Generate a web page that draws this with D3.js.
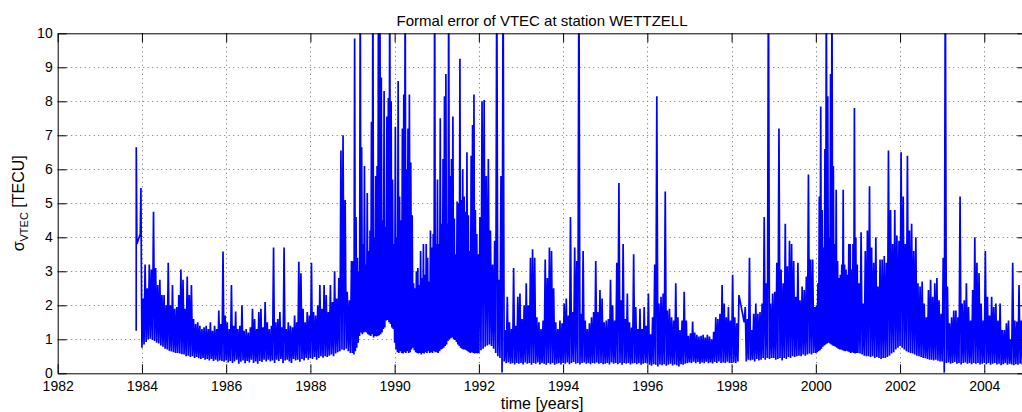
<!DOCTYPE html>
<html>
<head>
<meta charset="utf-8">
<script src="https://cdn.jsdelivr.net/npm/d3@7"></script>
<style>
  html, body { margin: 0; padding: 0; background: #fff; }
  svg { display: block; font-family: "Liberation Sans", Arial, Helvetica, sans-serif; }
</style>
</head>
<body>
<svg id="chart" width="1022" height="412"></svg>
<script>
// ---- tick labels ----
const xTicks = [1982, 1984, 1986, 1988, 1990, 1992, 1994, 1996, 1998, 2000, 2002, 2004];
const yTicks = [0, 1, 2, 3, 4, 5, 6, 7, 8, 9, 10];

// ---- first sessions before the regular series (time in years, sigma in TECU) ----
const startTimes  = [1983.864, 1983.866, 1983.88, 1983.96, 1983.976, 1983.986];
const startValues = [1.25, 6.65, 3.8, 4.1, 5.45, 3.2];

// ---- per-year series: alternating minima (lo) and maxima (hi) of sigma VTEC [TECU]
// each year is split evenly into lo.length slots; null marks missing data ----
const lo1984 = [0.75,0.85,0.92,1.0,1.02,0.98,0.95,0.9,0.88,0.82,0.78,0.72,0.7,0.66,0.64,0.62,0.6,0.6,0.58,0.56];
const hi1984 = [2.2,3.2,2.5,3.2,3.05,4.75,3.1,2.6,2.75,2.3,2.3,2.0,3.25,2.0,2.6,1.9,1.95,2.3,3.05,2.75];

const lo1985 = [0.55,0.5,0.52,0.48,0.5,0.45,0.48,0.44,0.42,0.45,0.4,0.42,0.38,0.42,0.36,0.4,0.35,0.38,0.36,0.34];
const hi1985 = [1.9,2.85,2.3,2.6,1.6,1.45,1.5,1.4,1.3,1.35,1.4,1.3,1.5,1.25,1.4,1.3,1.85,1.45,3.58,1.7];

const lo1986 = [0.38,0.32,0.36,0.3,0.35,0.4,0.28,0.34,0.38,0.3,0.36,0.32,0.4,0.3,0.35,0.28,0.36,0.33,0.4,0.35];
const hi1986 = [1.5,1.3,2.6,1.4,1.82,1.3,1.4,2.0,1.25,1.3,1.2,1.35,1.9,1.6,1.3,1.8,1.9,1.35,2.1,1.5];

const lo1987 = [0.4,0.35,0.38,0.3,0.4,0.36,0.42,0.3,0.38,0.4,0.35,0.3,0.42,0.38,0.4,0.34,0.42,0.38,0.45,0.4];
const hi1987 = [1.3,1.4,3.7,1.5,1.6,1.8,1.35,3.7,1.3,1.5,1.4,1.35,1.7,1.5,3.28,2.94,1.9,1.5,1.8,1.7];

const lo1988 = [0.45,0.42,0.48,0.4,0.45,0.5,0.46,0.5,0.48,0.52,0.55,0.5,0.58,0.62,0.65,0.7,0.68,0.72,0.65,0.6];
const hi1988 = [3.25,1.8,1.7,2.0,2.6,1.9,2.6,2.3,1.8,2.6,2.1,3.0,2.2,2.8,6.55,7.0,5.1,2.4,2.15,3.3];

const lo1989 = [0.6,0.55,0.65,0.75,0.9,1.1,1.2,1.15,1.2,1.22,1.2,1.15,1.12,1.1,1.15,1.05,1.1,1.08,1.1,1.12,1.15,1.2,1.3,1.35,1.55,1.57,1.5,1.45,1.35,1.3];
const hi1989 = [3.3,9.85,4.6,3.4,3.0,12,6.65,3.8,6.1,3.2,5.3,3.6,4.2,7.4,12,4.0,5.8,6.1,12,12,8.7,4.5,8.3,4.3,7.55,8.1,12,8.0,5.7,3.8];

const lo1990 = [0.9,0.7,0.62,0.6,0.65,0.6,0.58,0.62,0.6,0.65,0.6,0.62,0.7,0.75,0.68,0.62,0.6,0.58,0.6,0.55,0.6,0.58,0.62,0.6,0.65,0.6,0.62,0.6,0.65,0.62];
const hi1990 = [7.25,4.0,8.6,5.2,4.5,7.2,8.2,12,6.0,7.2,8.2,6.2,4.65,2.65,2.5,3.0,3.1,2.6,3.6,2.8,3.8,2.9,3.8,3.4,2.7,4.2,3.7,4.1,12,3.8];

const lo1991 = [0.62,0.6,0.65,0.7,0.72,0.75,0.8,0.85,0.95,1.0,1.03,1.05,1.0,0.98,0.92,0.85,0.8,0.75,0.72,0.7,0.7,0.68,0.65,0.62,0.6,0.62,0.6,0.58,0.6,0.58];
const hi1991 = [5.7,3.8,7.5,4.4,6.3,8.15,8.8,4.4,12,5.8,6.3,7.55,4.55,3.5,5.05,5.0,9.25,5.1,6.0,5.2,4.75,6.5,4.65,3.6,6.4,7.3,8.2,4.8,4.1,3.5];

const lo1992 = [0.6,0.68,0.72,0.78,0.82,0.85,0.8,0.72,0.6,0.5,0.45,0.02,0.35,0.3,0.32,0.28,0.3,0.26,0.3,0.28];
const hi1992 = [4.6,8.0,8.04,5.8,6.3,4.2,3.2,3.9,12,2.75,5.8,12,1.27,2.25,1.5,1.3,3.1,1.4,2.25,2.35];

const lo1993 = [0.3,0.26,0.32,0.28,0.3,0.25,0.3,0.28,0.32,0.26,0.3,0.28,0.25,0.3,0.27,0.3,0.25,0.28,0.3,0.26];
const hi1993 = [1.6,2.0,2.65,2.0,3.4,3.65,3.4,1.65,1.5,1.3,1.55,3.35,2.8,3.7,3.6,2.5,1.5,1.3,1.55,1.47];

const lo1994 = [0.3,0.28,0.32,0.27,0.3,0.33,0.28,0.3,0.26,0.3,0.32,0.28,0.3,0.27,0.3,0.29,0.32,0.28,0.3,0.27];
const hi1994 = [2.05,2.2,1.7,4.6,1.8,3.7,3.3,12,1.75,3.6,1.55,1.3,1.47,1.65,1.8,3.3,1.8,2.45,2.2,1.5];

const lo1995 = [0.28,0.3,0.26,0.32,0.28,0.3,0.27,0.3,0.25,0.3,0.28,0.3,0.26,0.29,0.3,0.27,0.3,0.25,0.28,0.3];
const hi1995 = [1.55,1.6,2.75,2.0,1.55,3.25,5.6,2.15,3.8,1.6,2.35,1.5,1.35,3.5,1.95,1.3,1.9,1.3,1.95,1.4];

const lo1996 = [0.28,0.25,0.22,0.27,0.25,0.2,0.26,0.24,0.27,0.22,0.25,0.28,0.23,0.26,0.24,0.2,0.27,0.25,0.28,0.3];
const hi1996 = [2.35,1.15,1.65,3.2,8.15,2.05,2.25,2.35,5.35,1.85,1.9,1.65,1.55,2.65,1.65,1.27,1.55,2.4,1.55,1.1];

const lo1997 = [0.32,0.3,0.34,0.3,0.33,0.28,0.32,0.3,0.34,0.3,0.32,0.29,0.33,0.3,0.35,0.3,0.32,0.3,0.34,0.3];
const hi1997 = [1.18,1.52,1.2,1.13,1.08,1.1,1.13,1.05,1.13,1.08,1.0,1.22,1.65,1.6,1.75,2.6,2.05,1.65,1.95,1.55];

const lo1998 = [0.3,0.32,0.3,0.35,null,null,1.5,0.35,0.4,0.38,0.4,0.35,0.42,0.38,0.4,0.45,0.4,0.45,0.42,0.45];
const hi1998 = [2.9,1.65,1.47,2.3,null,null,1.95,1.6,3.4,1.27,1.75,2.05,1.75,1.8,2.05,4.6,2.65,12,2.05,2.35];

const lo1999 = [0.45,0.4,0.42,0.45,0.38,0.45,0.42,0.48,0.45,0.5,0.48,0.5,0.52,0.5,0.55,0.52,0.55,0.58,0.55,0.6];
const hi1999 = [2.4,3.25,7.2,3.05,2.65,4.4,3.15,3.9,3.8,3.3,2.25,3.25,2.15,2.55,2.45,2.85,5.85,3.35,3.35,1.95];

const lo2000 = [0.6,0.62,0.65,0.68,0.72,0.78,0.82,0.85,0.88,0.9,0.88,0.85,0.82,0.8,0.78,0.75,0.72,0.7,0.7,0.68,0.66,0.65,0.66,0.64,0.62,0.6,0.62,0.6,0.58,0.6];
const hi2000 = [2.0,2.65,5.2,7.85,4.8,3.7,6.6,12,8.15,4.0,8.8,12,6.1,3.8,5.4,3.3,2.8,2.9,3.2,5.4,3.2,3.05,2.9,3.8,3.8,3.05,3.8,7.8,4.0,3.2];

const lo2001 = [0.6,0.58,0.55,0.52,0.5,0.5,0.48,0.5,0.45,0.48,0.45,0.42,0.45,0.45,0.48,0.52,0.58,0.62,0.7,0.75];
const hi2001 = [2.65,4.15,2.05,3.6,4.2,5.5,3.7,3.25,4.0,2.55,3.35,3.35,3.45,3.25,6.55,4.8,3.8,4.8,4.05,3.9];

const lo2002 = [0.8,0.75,0.7,0.65,0.62,0.6,0.58,0.55,0.52,0.5,0.48,0.45,0.44,0.42,0.4,0.4,0.38,0.4,0.37,0.35];
const hi2002 = [6.5,5.2,3.8,6.4,4.2,4.4,3.6,4.0,2.65,2.55,2.7,2.05,1.65,2.45,2.75,2.25,2.65,2.8,2.15,1.75];

const lo2003 = [0.35,0.02,0.3,0.32,0.28,0.3,0.33,0.28,0.3,0.26,0.3,0.32,0.28,0.3,0.27,0.3,0.28,0.3,0.26,0.28];
const hi2003 = [3.4,12,2.55,1.47,1.65,1.85,1.85,1.65,5.2,2.05,2.15,2.65,1.95,1.55,2.45,4.0,3.25,2.95,2.05,1.55];

const lo2004 = [0.3,0.27,0.3,0.25,0.28,0.3,0.26,0.28,0.24,0.27,0.3,0.25,0.28,0.26,0.24,0.27,0.25,0.28,0.26,0.25];
const hi2004 = [3.6,2.25,1.7,2.25,1.95,2.05,1.55,2.05,1.27,1.27,1.47,1.55,1.0,3.25,1.55,1.52,2.6,1.55,1.5,1.4];

const yearRuns = [
  [1984, lo1984, hi1984], [1985, lo1985, hi1985], [1986, lo1986, hi1986],
  [1987, lo1987, hi1987], [1988, lo1988, hi1988], [1989, lo1989, hi1989],
  [1990, lo1990, hi1990], [1991, lo1991, hi1991], [1992, lo1992, hi1992],
  [1993, lo1993, hi1993], [1994, lo1994, hi1994], [1995, lo1995, hi1995],
  [1996, lo1996, hi1996], [1997, lo1997, hi1997], [1998, lo1998, hi1998],
  [1999, lo1999, hi1999], [2000, lo2000, hi2000], [2001, lo2001, hi2001],
  [2002, lo2002, hi2002], [2003, lo2003, hi2003], [2004, lo2004, hi2004]
];

// ---- assemble the time series ----
const series = startTimes.map((t, i) => [t, startValues[i]]);
yearRuns.forEach(([yr, lo, hi]) => {
  const n = lo.length;
  lo.forEach((v, j) => {
    if (v !== null) series.push([yr + j / n, v]);
    if (hi[j] !== null) series.push([yr + (j + 0.5) / n, hi[j]]);
  });
});

// ---- layout ----
const svg = d3.select("#chart");
const x = d3.scaleLinear().domain([1982, 2005]).range([57.7, 1026.4]);
const y = d3.scaleLinear().domain([0, 10]).range([373.3, 33.3]);
const FONT = '"Liberation Sans", Arial, Helvetica, sans-serif';

svg.append("defs").append("clipPath").attr("id", "plot-clip")
  .append("rect")
  .attr("x", x(1982)).attr("y", y(10))
  .attr("width", x(2005) - x(1982)).attr("height", y(0) - y(10));

// dotted grid
const grid = svg.append("g").attr("stroke", "#444").attr("stroke-width", 1)
  .attr("stroke-dasharray", "1,3.5").attr("opacity", 0.75);
grid.selectAll("line.gx").data(xTicks.slice(1)).join("line").attr("class", "gx")
  .attr("x1", d => Math.round(x(d)) + 0.5).attr("x2", d => Math.round(x(d)) + 0.5)
  .attr("y1", y(10)).attr("y2", y(0));
grid.selectAll("line.gy").data(yTicks.slice(1, -1)).join("line").attr("class", "gy")
  .attr("y1", d => Math.round(y(d)) + 0.5).attr("y2", d => Math.round(y(d)) + 0.5)
  .attr("x1", x(1982)).attr("x2", x(2005));

// data line
const line = d3.line().x(d => x(d[0])).y(d => y(d[1]));
svg.append("path")
  .datum(series)
  .attr("clip-path", "url(#plot-clip)")
  .attr("fill", "none")
  .attr("stroke", "#0000ff")
  .attr("stroke-width", 1.7)
  .attr("stroke-linejoin", "bevel")
  .attr("d", line);

// axes (ticks pointing inward, box on all sides)
function styleAxis(g) {
  g.attr("font-family", FONT).attr("font-size", 14);
  g.select(".domain").attr("stroke", "#000").attr("stroke-width", 1);
  g.selectAll(".tick line").attr("stroke", "#000").attr("stroke-width", 1);
  g.selectAll(".tick text").attr("fill", "#000");
}
svg.append("g").attr("transform", `translate(0,${y(0)})`)
  .call(d3.axisBottom(x).tickValues(xTicks).tickFormat(d3.format("d"))
    .tickSizeInner(-9).tickSizeOuter(0).tickPadding(8))
  .call(styleAxis);
svg.append("g").attr("transform", `translate(0,${y(10)})`)
  .call(d3.axisTop(x).tickValues(xTicks).tickFormat(() => "")
    .tickSizeInner(-9).tickSizeOuter(0))
  .call(styleAxis);
svg.append("g").attr("transform", `translate(${x(1982)},0)`)
  .call(d3.axisLeft(y).tickValues(yTicks).tickFormat(d3.format("d"))
    .tickSizeInner(-9).tickSizeOuter(0).tickPadding(5))
  .call(styleAxis);
svg.append("g").attr("transform", `translate(${x(2005)},0)`)
  .call(d3.axisRight(y).tickValues(yTicks).tickFormat(() => "")
    .tickSizeInner(-9).tickSizeOuter(0))
  .call(styleAxis);

// title and axis labels
svg.append("text")
  .attr("x", (x(1982) + x(2005)) / 2).attr("y", 26)
  .attr("text-anchor", "middle").attr("font-family", FONT).attr("font-size", 15)
  .text("Formal error of VTEC at station WETTZELL");

svg.append("text")
  .attr("x", (x(1982) + x(2005)) / 2).attr("y", 409)
  .attr("text-anchor", "middle").attr("font-family", FONT).attr("font-size", 16)
  .text("time [years]");

const yl = svg.append("text")
  .attr("transform", `translate(24,${(y(0) + y(10)) / 2}) rotate(-90)`)
  .attr("text-anchor", "middle").attr("font-family", FONT).attr("font-size", 16);
yl.append("tspan").text("σ");
yl.append("tspan").attr("font-size", 11).attr("dy", 4).text("VTEC");
yl.append("tspan").attr("dy", -4).text(" [TECU]");
</script>
</body>
</html>
